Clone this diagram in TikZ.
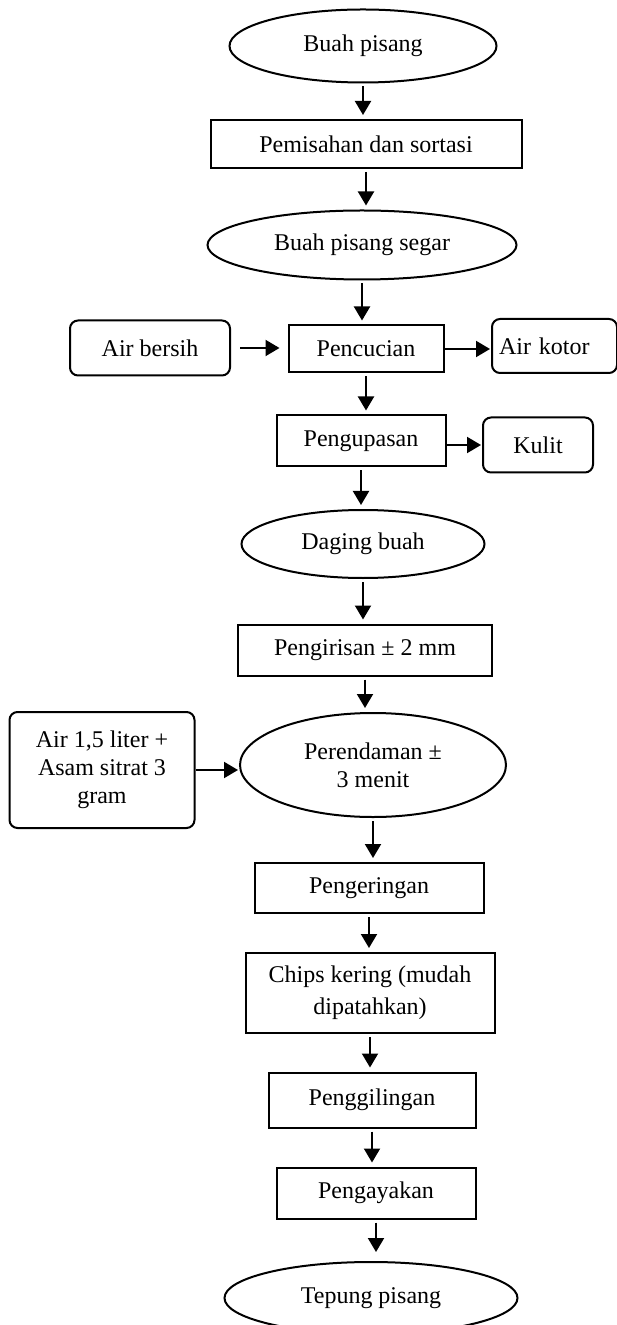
\documentclass[tikz,border=0pt]{standalone}
\usepackage{fontspec}
\setmainfont{Liberation Serif}
\usetikzlibrary{shapes.geometric,arrows.meta}

\begin{document}
\begin{tikzpicture}[x=0.5pt, y=-0.5pt, line width=1pt,
  font=\fontsize{12}{14}\selectfont,
  >={Triangle[length=7pt,width=8pt]},
  proses/.style={rectangle, draw, inner sep=0pt, align=center},
  produk/.style={ellipse, draw, inner sep=0pt, align=center},
  bahan/.style={rectangle, draw, rounded corners=4pt, inner sep=0pt, align=center},
  alur/.style={->, shorten <=1.5pt, shorten >=2pt},
  sisi/.style={->, shorten >=0.5pt}]
\useasboundingbox (0,0) rectangle (616,1325);

\node[produk, minimum width=133.5pt, minimum height=36.5pt] (buah) at (363,46) {Buah pisang};
\node[proses, minimum width=155.5pt, minimum height=24pt] (pemisahan) at (366,144) {Pemisahan dan sortasi};
\node[produk, minimum width=154.5pt, minimum height=34.5pt] (segar) at (362,245) {Buah pisang segar};
\node[proses, minimum width=77.5pt, minimum height=23.5pt] (pencucian) at (366,349) {Pencucian};
\node[bahan, minimum width=80pt, minimum height=27.5pt] (airbersih) at (150,348) {Air bersih};
\node[bahan, anchor=west, text width=55.5pt, align=left, inner xsep=3.5pt, minimum height=27pt] (airkotor) at (491,346) {Air kotor};
\node[proses, minimum width=84.5pt, minimum height=25.5pt] (pengupasan) at (361,441) {Pengupasan};
\node[bahan, minimum width=55pt, minimum height=27.5pt] (kulit) at (538,445) {Kulit};
\node[produk, minimum width=121.5pt, minimum height=34pt] (daging) at (363,544) {Daging buah};
\node[proses, minimum width=127pt, minimum height=25.5pt] (pengirisan) at (365,650) {Pengirisan ± 2 mm};
\node[produk, minimum width=133pt, minimum height=52pt] (perendaman) at (373,765) {Perendaman ±\\3 menit};
\node[bahan, minimum width=92.5pt, minimum height=58pt] (larutan) at (102,770) {Air 1,5 liter +\\Asam sitrat 3\\gram};
\node[proses, minimum width=114.5pt, minimum height=25pt] (pengeringan) at (369,888) {Pengeringan};
\node[proses, minimum width=124.5pt, minimum height=40pt, font=\fontsize{12}{16}\selectfont] (chips) at (370,993) {Chips kering (mudah\\dipatahkan)};
\node[proses, minimum width=103.5pt, minimum height=27.5pt] (penggilingan) at (372,1100) {Penggilingan};
\node[proses, minimum width=99.5pt, minimum height=25.5pt] (pengayakan) at (376,1193) {Pengayakan};
\node[produk, minimum width=146.5pt, minimum height=36pt] (tepung) at (371,1298) {Tepung pisang};

\draw[alur] (buah.south) -- (buah.south |- pemisahan.north);
\draw[alur] (pemisahan.south) -- (pemisahan.south |- segar.north);
\draw[alur] (segar.south) -- (segar.south |- pencucian.north);
\draw[alur] (pencucian.south) -- (pencucian.south |- pengupasan.north);
\draw[alur] (pengupasan.south) -- (pengupasan.south |- daging.north);
\draw[alur] (daging.south) -- (daging.south |- pengirisan.north);
\draw[alur] (pengirisan.south) -- (pengirisan.south |- perendaman.north);
\draw[alur] (perendaman.south) -- (perendaman.south |- pengeringan.north);
\draw[alur] (pengeringan.south) -- (pengeringan.south |- chips.north);
\draw[alur] (chips.south) -- (chips.south |- penggilingan.north);
\draw[alur] (penggilingan.south) -- (penggilingan.south |- pengayakan.north);
\draw[alur, shorten >=4.5pt] (pengayakan.south) -- (pengayakan.south |- tepung.north);

\draw[alur, shorten <=4.5pt, shorten >=4pt] (airbersih.east) -- (airbersih.east -| pencucian.west);
\draw[sisi] (pencucian.east) -- (pencucian.east -| airkotor.west);
\draw[sisi] (pengupasan.east |- kulit.west) -- (kulit.west);
\draw[sisi] (larutan.east) -- (larutan.east -| perendaman.west);
\end{tikzpicture}
\end{document}
